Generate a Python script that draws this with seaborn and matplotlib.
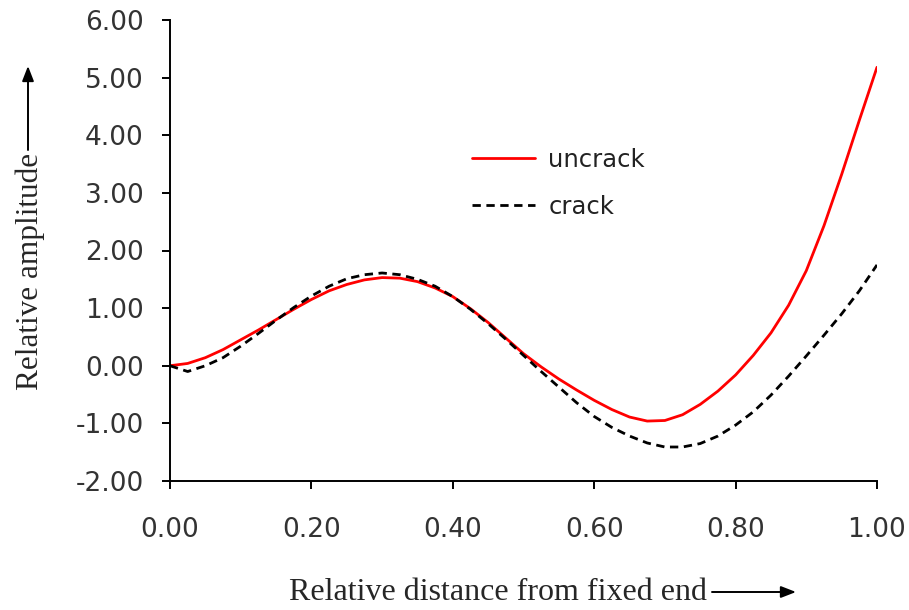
import numpy as np
import pandas as pd
import matplotlib
matplotlib.use("Agg")
import matplotlib.pyplot as plt
from matplotlib.ticker import FormatStrFormatter
import seaborn as sns

# Relative distance along the beam from the fixed end
distance = [0.000, 0.025, 0.050, 0.075, 0.100, 0.125, 0.150, 0.175, 0.200,
            0.225, 0.250, 0.275, 0.300, 0.325, 0.350, 0.375, 0.400, 0.425,
            0.450, 0.475, 0.500, 0.525, 0.550, 0.575, 0.600, 0.625, 0.650,
            0.675, 0.700, 0.725, 0.750, 0.775, 0.800, 0.825, 0.850, 0.875,
            0.900, 0.925, 0.950, 0.975, 1.000]

# Relative amplitude of the mode shape, intact beam
uncrack = [0.00, 0.04, 0.14, 0.28, 0.45, 0.62, 0.80, 0.98, 1.15,
           1.30, 1.41, 1.49, 1.53, 1.52, 1.46, 1.35, 1.20, 0.99,
           0.75, 0.48, 0.21, -0.02, -0.23, -0.42, -0.60, -0.76, -0.89,
           -0.96, -0.95, -0.85, -0.67, -0.44, -0.16, 0.18, 0.57, 1.05,
           1.65, 2.43, 3.32, 4.26, 5.18]

# Relative amplitude of the mode shape, cracked beam
crack = [0.00, -0.10, 0.00, 0.14, 0.34, 0.56, 0.79, 1.01, 1.21,
         1.38, 1.51, 1.58, 1.61, 1.58, 1.50, 1.38, 1.20, 0.98,
         0.73, 0.46, 0.18, -0.10, -0.37, -0.64, -0.88, -1.07, -1.22,
         -1.34, -1.41, -1.41, -1.35, -1.22, -1.03, -0.80, -0.51, -0.18,
         0.17, 0.53, 0.90, 1.30, 1.75]

x_ticks = [0.0, 0.2, 0.4, 0.6, 0.8, 1.0]
y_ticks = [-2, -1, 0, 1, 2, 3, 4, 5, 6]

df = pd.DataFrame({
    "distance": distance * 2,
    "amplitude": uncrack + crack,
    "case": ["uncrack"] * len(distance) + ["crack"] * len(distance),
})

sns.set_style("ticks")
plt.rcParams["font.family"] = ["DejaVu Sans"]

fig = plt.figure(figsize=(9.09, 6.10), dpi=100)
ax = fig.add_axes([170 / 909, 1 - 481 / 610, 707 / 909, 461 / 610])

sns.lineplot(data=df[df["case"] == "uncrack"], x="distance", y="amplitude",
             color="#ff0000", linewidth=2.0, ax=ax, label="uncrack")
sns.lineplot(data=df[df["case"] == "crack"], x="distance", y="amplitude",
             color="black", linewidth=2.0, ax=ax, label="crack")
ax.lines[1].set_dashes((3.0, 2.0))

ax.set_xlim(0, 1.0)
ax.set_ylim(-2, 6)
ax.set_xticks(x_ticks)
ax.set_yticks(y_ticks)
ax.xaxis.set_major_formatter(FormatStrFormatter("%.2f"))
ax.yaxis.set_major_formatter(FormatStrFormatter("%.2f"))
ax.tick_params(axis="both", direction="out", length=6, width=1.4,
               labelsize=19, colors="black", labelcolor="#333333")
ax.tick_params(axis="x", pad=20)
ax.tick_params(axis="y", pad=13)
for side in ("top", "right"):
    ax.spines[side].set_visible(False)
for side in ("left", "bottom"):
    ax.spines[side].set_linewidth(1.4)
    ax.spines[side].set_color("black")
ax.set_xlabel("")
ax.set_ylabel("")

leg = ax.legend(loc="upper left", bbox_to_anchor=(450 / 909, 1 - 126 / 610),
                bbox_transform=fig.transFigure, frameon=False, fontsize=17.5,
                handlelength=2.6, labelspacing=0.95, handletextpad=0.55)
for txt in leg.get_texts():
    txt.set_color("#222222")

# Axis titles with direction arrows
serif = ["Liberation Serif", "DejaVu Serif"]
fig.text(707 / 909, 1 - 592 / 610, "Relative distance from fixed end",
         family=serif, fontsize=23, ha="right", va="center")
fig.text(30 / 909, 1 - 271 / 610, "Relative amplitude", family=serif,
         fontsize=22.5, rotation=90, ha="center", va="center")
arrow = dict(arrowstyle="-|>,head_length=0.9,head_width=0.35", color="black",
             lw=1.4, shrinkA=0, shrinkB=0)
ax.annotate("", xy=(796 / 909, 1 - 592 / 610), xytext=(712 / 909, 1 - 592 / 610),
            xycoords="figure fraction", textcoords="figure fraction",
            arrowprops=arrow)
ax.annotate("", xy=(28 / 909, 1 - 66 / 610), xytext=(28 / 909, 1 - 150 / 610),
            xycoords="figure fraction", textcoords="figure fraction",
            arrowprops=arrow)

fig.savefig("out.png", dpi=100, facecolor="white")
